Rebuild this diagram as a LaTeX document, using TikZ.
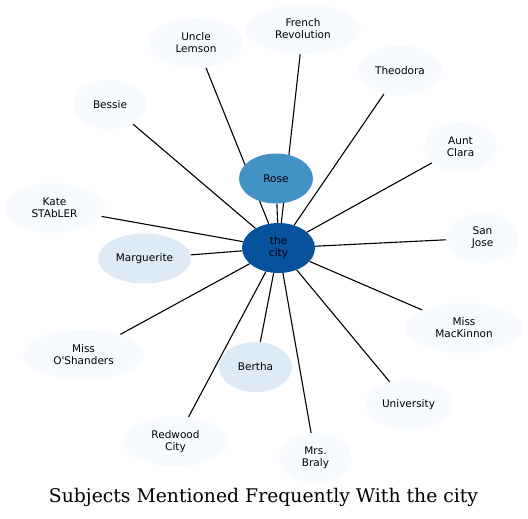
\documentclass[tikz,border=0pt]{standalone}
\usepackage{fontspec}
\newfontfamily\labelfont{DejaVu Sans}
\newfontfamily\titlefont{DejaVu Serif}
\usepackage{tikz}
\usetikzlibrary{shapes.geometric,backgrounds}
\definecolor{hubblue}{HTML}{08519C}
\definecolor{midblue}{HTML}{4292C6}
\definecolor{paleblue}{HTML}{DEEBF7}
\definecolor{faintblue}{HTML}{F7FBFF}

\begin{document}
\begin{tikzpicture}[
  x=1pt,y=-1pt,
  font=\labelfont\fontsize{10.5}{12}\selectfont,
  subj/.style={ellipse,fill=faintblue,align=center,inner sep=0pt,minimum height=50pt},
  near/.style={subj,fill=paleblue},
  hub/.style={subj,fill=hubblue},
  link/.style={draw=black,line width=1.1pt}
]
\useasboundingbox (0,0) rectangle (528,519);
\node[hub,minimum width=73pt] (city) at (278.5,248) {the\\city};
\node[subj,fill=midblue,minimum width=74pt] (rose) at (276,178.5) {Rose};
\node[near,minimum width=93pt] (marg) at (144.5,258.5) {Marguerite};
\node[near,minimum width=73pt] (bertha) at (255.5,367) {Bertha};
\node[subj,minimum width=99pt] (kate) at (54.5,208) {Kate\\STAbLER};
\node[subj,minimum width=73pt] (bessie) at (110,104.5) {Bessie};
\node[subj,minimum width=94pt] (lemson) at (196,43) {Uncle\\Lemson};
\node[subj,minimum width=114pt] (french) at (303,29) {French\\Revolution};
\node[subj,minimum width=84pt] (theo) at (400,70.5) {Theodora};
\node[subj,minimum width=73pt] (clara) at (460.5,147) {Aunt\\Clara};
\node[subj,minimum width=73pt] (sanjose) at (482.5,238) {San\\Jose};
\node[subj,minimum width=118pt] (mackinnon) at (464,328) {Miss\\MacKinnon};
\node[subj,minimum width=87pt] (univ) at (408.5,404.5) {University};
\node[subj,minimum width=73pt] (braly) at (315.5,458) {Mrs.\\Braly};
\node[subj,minimum width=105pt] (redwood) at (175.5,441.5) {Redwood\\City};
\node[subj,minimum width=121pt] (oshand) at (83.5,354.5) {Miss\\O'Shanders};
\node[font=\titlefont\fontsize{18.8}{22}\selectfont] (title) at (263.5,497.5) {Subjects Mentioned Frequently With the city};

\begin{scope}[on background layer]
\draw[link] (city) -- (rose);
\draw[link] (city) -- (marg);
\draw[link] (city) -- (bertha);
\draw[link] (city) -- (kate);
\draw[link] (city) -- (bessie);
\draw[link] (city) -- (lemson);
\draw[link] (city) -- (french);
\draw[link] (city) -- (theo);
\draw[link] (city) -- (clara);
\draw[link] (city) -- (sanjose);
\draw[link] (city) -- (mackinnon);
\draw[link] (city) -- (univ);
\draw[link] (city) -- (braly);
\draw[link] (city) -- (redwood);
\draw[link] (city) -- (oshand);
\end{scope}
\end{tikzpicture}
\end{document}
